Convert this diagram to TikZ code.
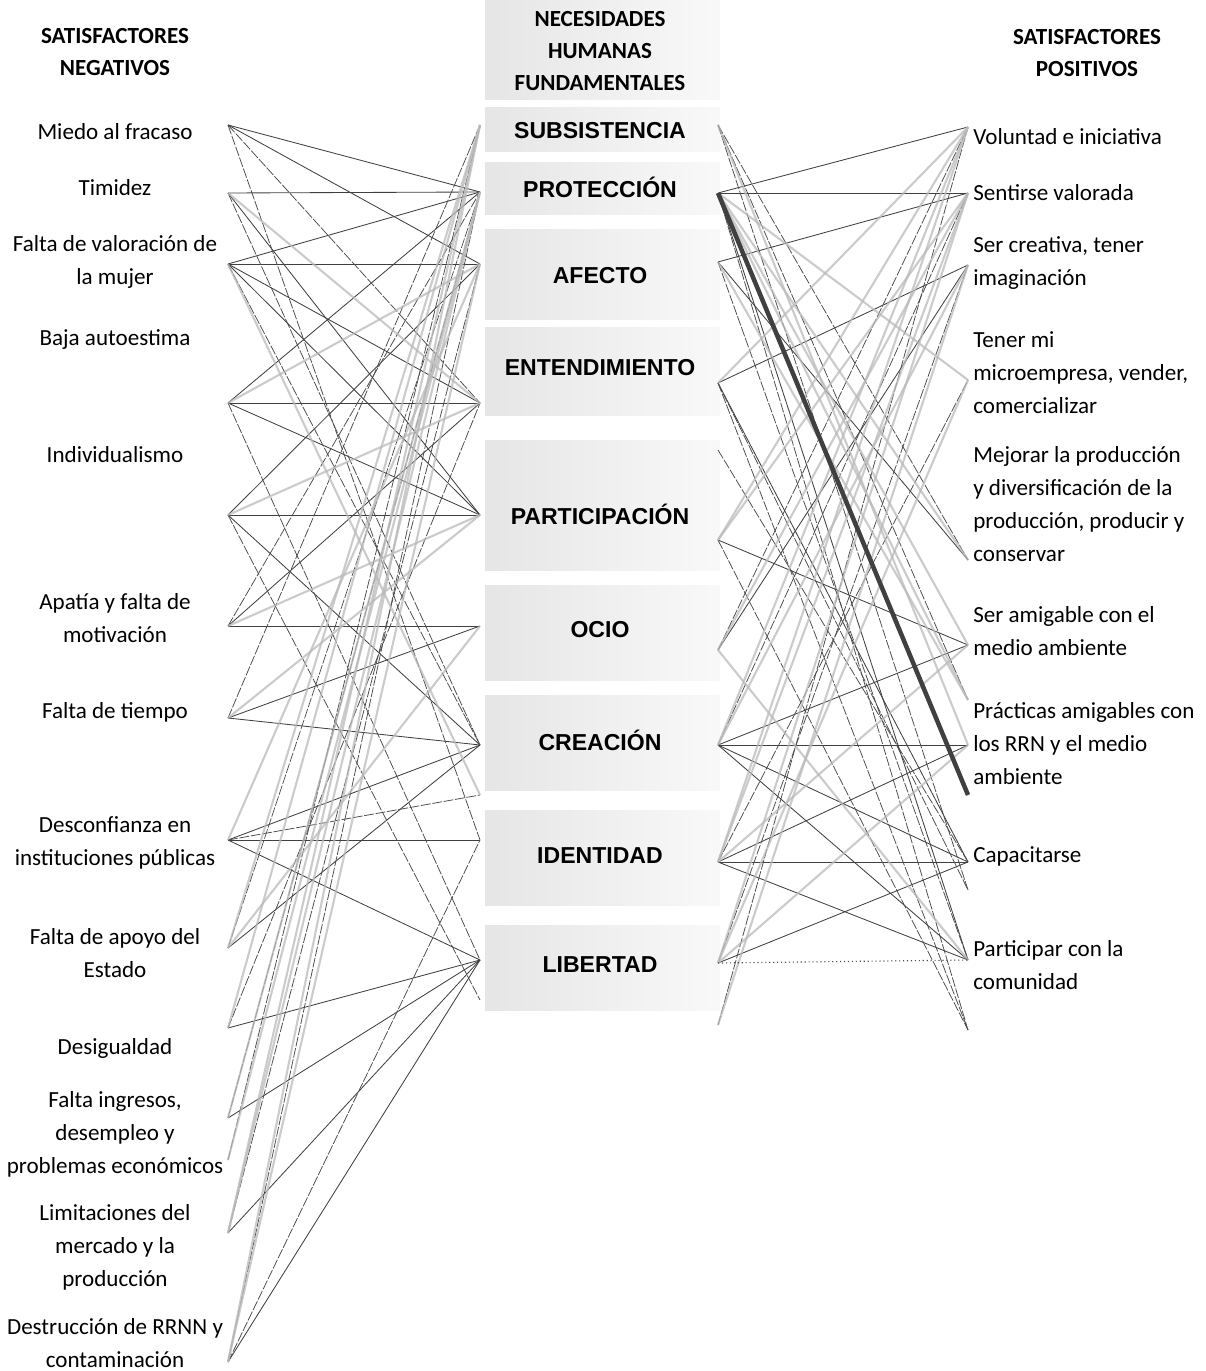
\documentclass[tikz,border=0pt]{standalone}
\usepackage{fontspec}
\setmainfont{Carlito}
\newfontfamily\needfont{Liberation Sans}
\usepackage{tikz}

\begin{document}
\begin{tikzpicture}[x=0.025cm,y=-0.025cm]
  \tikzstyle{sidetext} = [font=\fontsize{16.4}{23.5}\selectfont, inner sep=0pt, align=center]
  \tikzstyle{postext} = [sidetext, anchor=west, align=left]
  \tikzstyle{headtext} = [sidetext, font=\bfseries\fontsize{16.4}{23}\selectfont]
  \tikzstyle{needtext} = [font=\needfont\bfseries\fontsize{16.4}{18}\selectfont, inner sep=0pt]
  \tikzstyle{band} = [left color=gray!20, right color=gray!5, draw=none]
  \tikzstyle{ink} = [black!75, line width=0.6pt]
  \tikzstyle{inkdash} = [black!70, line width=0.55pt, dash pattern=on 7pt off 1.2pt]
  \tikzstyle{smudge} = [gray!55, line width=1.5pt, opacity=0.75]
  \tikzstyle{heavy} = [black!75, line width=3.2pt]
  \useasboundingbox (0,0) rectangle (1205,1371);

  % gray bands of the middle column
  \foreach \ya/\yb in {0/100,108/152,163/215,230/320,328/415,440/570,585/680,695/790,810/905,925/1010}
    \fill[band] (485,\ya) rectangle (720,\yb);

  % headers
  \node[headtext] (hneg) at (115,52) {SATISFACTORES\\NEGATIVOS};
  \node[headtext] (hnec) at (600,51) {NECESIDADES\\HUMANAS\\FUNDAMENTALES};
  \node[headtext] (hpos) at (1087,53) {SATISFACTORES\\POSITIVOS};

  % negative satisfiers
  \node[sidetext] (t1) at (115,132) {Miedo al fracaso};
  \node[sidetext] (t2) at (115,188) {Timidez};
  \node[sidetext] (t3) at (115,262) {Falta de valoración de\\la mujer};
  \node[sidetext] (t4) at (115,340) {Baja autoestima};
  \node[sidetext] (t5) at (115,455) {Individualismo};
  \node[sidetext] (t6) at (115,618) {Apatía y falta de\\motivación};
  \node[sidetext] (t7) at (115,712) {Falta de tiempo};
  \node[sidetext] (t8) at (115,843) {Desconfianza en\\instituciones públicas};
  \node[sidetext] (t9) at (115,953) {Falta de apoyo del\\Estado};
  \node[sidetext] (t10) at (115,1048) {Desigualdad};
  \node[sidetext] (t11) at (115,1134) {Falta ingresos,\\desempleo y\\problemas económicos};
  \node[sidetext] (t12) at (115,1247) {Limitaciones del\\mercado y la\\producción};
  \node[sidetext] (t13) at (115,1343) {Destrucción de RRNN y\\contaminación};

  % fundamental needs
  \node[needtext] (s1) at (600,131) {SUBSISTENCIA};
  \node[needtext] (s2) at (600,187) {PROTECCIÓN};
  \node[needtext] (s3) at (600,276) {AFECTO};
  \node[needtext] (s4) at (600,368) {ENTENDIMIENTO};
  \node[needtext] (s5) at (600,514) {PARTICIPACIÓN};
  \node[needtext] (s6) at (600,630) {OCIO};
  \node[needtext] (s7) at (600,740) {CREACIÓN};
  \node[needtext] (s8) at (600,856) {IDENTIDAD};
  \node[needtext] (s9) at (600,965) {LIBERTAD};

  % positive satisfiers
  \node[postext] (p1) at (973,137) {Voluntad e iniciativa};
  \node[postext] (p2) at (973,193) {Sentirse valorada};
  \node[postext] (p3) at (973,263) {Ser creativa, tener\\imaginación};
  \node[postext] (p4) at (973,373) {Tener mi\\microempresa, vender,\\comercializar};
  \node[postext] (p5) at (973,504) {Mejorar la producción\\y diversificación de la\\producción, producir y\\conservar};
  \node[postext] (p6) at (973,631) {Ser amigable con el\\medio ambiente};
  \node[postext] (p7) at (973,744) {Prácticas amigables con\\los RRN y el medio\\ambiente};
  \node[postext] (p8) at (973,856) {Capacitarse};
  \node[postext] (p9) at (973,965) {Participar con la\\comunidad};

  % line ends
  \foreach \i/\y in {1/125,2/193,3/264,4/403,5/515,6/626,7/718,8/840,9/948,10/1028,11/1118,12/1233,13/1362,14/1160}
    \coordinate (neg\i) at (228,\y);
  \foreach \i/\y in {1/125,2/192,3/264,4/403,5/515,6/626,7/745,8/840,9/960,10/795,11/1000}
    \coordinate (nl\i) at (480,\y);
  \foreach \i/\y in {1/125,2/193,3/262,4/383,5/540,6/650,7/745,8/862,9/963,10/1025,11/450}
    \coordinate (nr\i) at (718,\y);
  \foreach \i/\y in {1/127,2/193,3/265,4/380,5/560,6/645,7/745,8/862,9/960,10/700,11/795,12/1030,13/890}
    \coordinate (pos\i) at (968,\y);

  % negative side
  \foreach \a/\b in {neg1/nl2,neg1/nl3,neg2/nl2,neg3/nl2,neg3/nl3,neg3/nl5,neg4/nl4,neg4/nl2,
      neg4/nl5,neg5/nl5,neg5/nl3,neg6/nl6,neg6/nl4,neg7/nl7,neg7/nl6,neg8/nl8,neg8/nl7,neg8/nl9,
      neg10/nl9,neg11/nl9,neg12/nl9,neg13/nl9,neg2/nl5,neg3/nl4,neg5/nl7,neg9/nl7}
    \draw[ink] (\a) -- (\b);
  \foreach \a/\b in {neg1/nl4,neg1/nl8,neg2/nl7,neg3/nl7,neg4/nl9,neg7/nl1,neg9/nl2,neg11/nl2,
      neg13/nl2,neg13/nl8,neg12/nl3,neg14/nl1,neg6/nl2,neg10/nl4,neg8/nl10,neg5/nl11}
    \draw[inkdash] (\a) -- (\b);
  \foreach \a/\b in {neg2/nl4,neg3/nl10,neg4/nl3,neg5/nl4,neg6/nl5,neg7/nl5,neg9/nl6,neg10/nl1,
      neg12/nl1,neg13/nl1,neg13/nl3,neg11/nl2,neg14/nl2,neg12/nl2,neg8/nl3,neg9/nl1}
    \draw[smudge] (\a) -- (\b);

  % positive side
  \foreach \a/\b in {nr2/pos1,nr2/pos2,nr3/pos2,nr4/pos3,nr7/pos7,nr7/pos6,nr8/pos8,nr8/pos9,
      nr9/pos8,nr7/pos9,nr7/pos8,nr8/pos7,nr4/pos8,nr6/pos3,nr3/pos5,nr5/pos6,nr2/pos9}
    \draw[ink] (\a) -- (\b);
  \foreach \a/\b in {nr1/pos5,nr1/pos10,nr3/pos9,nr4/pos12,nr6/pos1,nr10/pos1,nr9/pos3,nr5/pos12,
      nr11/pos8,nr2/pos12,nr7/pos2,nr8/pos4,nr1/pos13,nr4/pos13}
    \draw[inkdash] (\a) -- (\b);
  \foreach \a/\b in {nr2/pos4,nr2/pos5,nr2/pos6,nr2/pos10,nr4/pos1,nr5/pos1,nr5/pos2,nr6/pos2,
      nr7/pos1,nr7/pos3,nr8/pos1,nr8/pos2,nr9/pos2,nr9/pos7,nr9/pos4,nr1/pos7,nr3/pos10,nr6/pos9,
      nr10/pos3,nr8/pos6}
    \draw[smudge] (\a) -- (\b);
  \draw[black!70, line width=0.8pt, dotted] (nr9) -- (pos9);
  \draw[heavy] (nr2) -- (pos11);
\end{tikzpicture}
\end{document}
